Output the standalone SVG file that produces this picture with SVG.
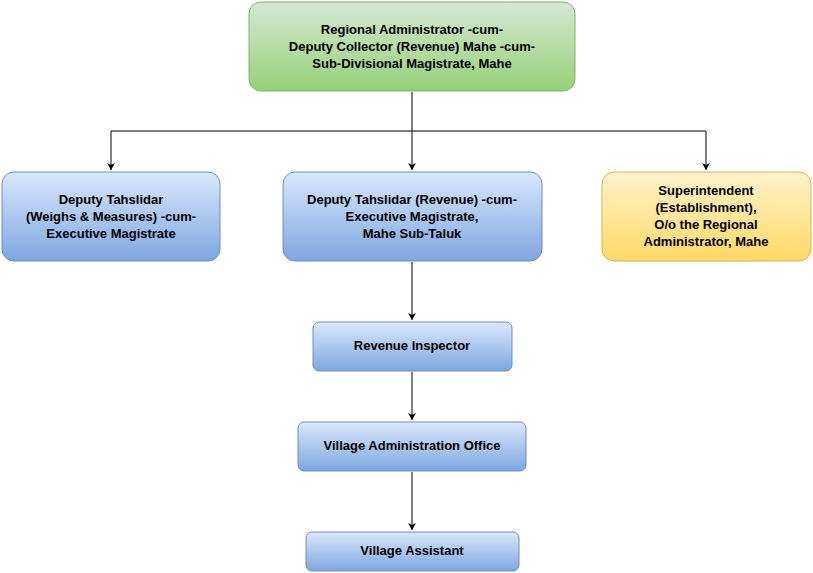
<svg xmlns="http://www.w3.org/2000/svg" width="813" height="573" viewBox="0 0 813 573">
<defs>
<linearGradient id="g" x1="0" y1="0" x2="0" y2="1"><stop offset="0" stop-color="#d5e8d4"/><stop offset="1" stop-color="#97d077"/></linearGradient>
<linearGradient id="b" x1="0" y1="0" x2="0" y2="1"><stop offset="0" stop-color="#dae8fc"/><stop offset="1" stop-color="#7ea6e0"/></linearGradient>
<linearGradient id="y" x1="0" y1="0" x2="0" y2="1"><stop offset="0" stop-color="#fff2cc"/><stop offset="1" stop-color="#ffd966"/></linearGradient>
<marker id="a" markerWidth="10" markerHeight="10" refX="8" refY="5" orient="auto" markerUnits="userSpaceOnUse"><path d="M1,1 L8,5 L1,9 L3,5 Z" fill="#000"/></marker>
</defs>
<style>
text{font-family:"Liberation Sans",Arial,sans-serif;font-size:13px;font-weight:bold;text-anchor:middle;fill:#000}
.c{fill:none;stroke:#000;stroke-width:1;marker-end:url(#a)}
.bl{fill:url(#b);stroke:#6c8ebf}
</style>
<rect width="813" height="573" fill="#fff"/>
<g id="connectors">
<path class="c" d="M412,92 V170"/>
<path class="c" d="M412,131 H111 V170"/>
<path class="c" d="M412,131 H706 V170"/>
<path class="c" d="M412,262 V320"/>
<path class="c" d="M412,372 V420"/>
<path class="c" d="M412,472 V530"/>
</g>
<g id="n1"><rect x="249" y="2" width="326" height="89" rx="12" fill="url(#g)" stroke="#82b366"/><text x="412" y="34">Regional Administrator -cum-</text><text x="412" y="51">Deputy Collector (Revenue) Mahe -cum-</text><text x="412" y="68">Sub-Divisional Magistrate, Mahe</text></g>
<g id="n2"><rect x="2" y="172" width="218" height="89" rx="12" class="bl"/><text x="111" y="204">Deputy Tahslidar</text><text x="111" y="221">(Weighs &amp; Measures) -cum-</text><text x="111" y="238">Executive Magistrate</text></g>
<g id="n3"><rect x="283" y="172" width="259" height="89" rx="12" class="bl"/><text x="412" y="204">Deputy Tahslidar (Revenue) -cum-</text><text x="412" y="221">Executive Magistrate,</text><text x="412" y="238">Mahe Sub-Taluk</text></g>
<g id="n4"><rect x="602" y="172" width="209" height="89" rx="12" fill="url(#y)" stroke="#d6b656"/><text x="706" y="195">Superintendent</text><text x="706" y="212">(Establishment),</text><text x="706" y="229">O/o the Regional</text><text x="706" y="246">Administrator, Mahe</text></g>
<g id="n5"><rect x="313" y="322" width="199" height="49" rx="6" class="bl"/><text x="412" y="350">Revenue Inspector</text></g>
<g id="n6"><rect x="298" y="422" width="228" height="49" rx="6" class="bl"/><text x="412" y="450">Village Administration Office</text></g>
<g id="n7"><rect x="306" y="532" width="213" height="39" rx="6" class="bl"/><text x="412" y="555">Village Assistant</text></g>
</svg>
